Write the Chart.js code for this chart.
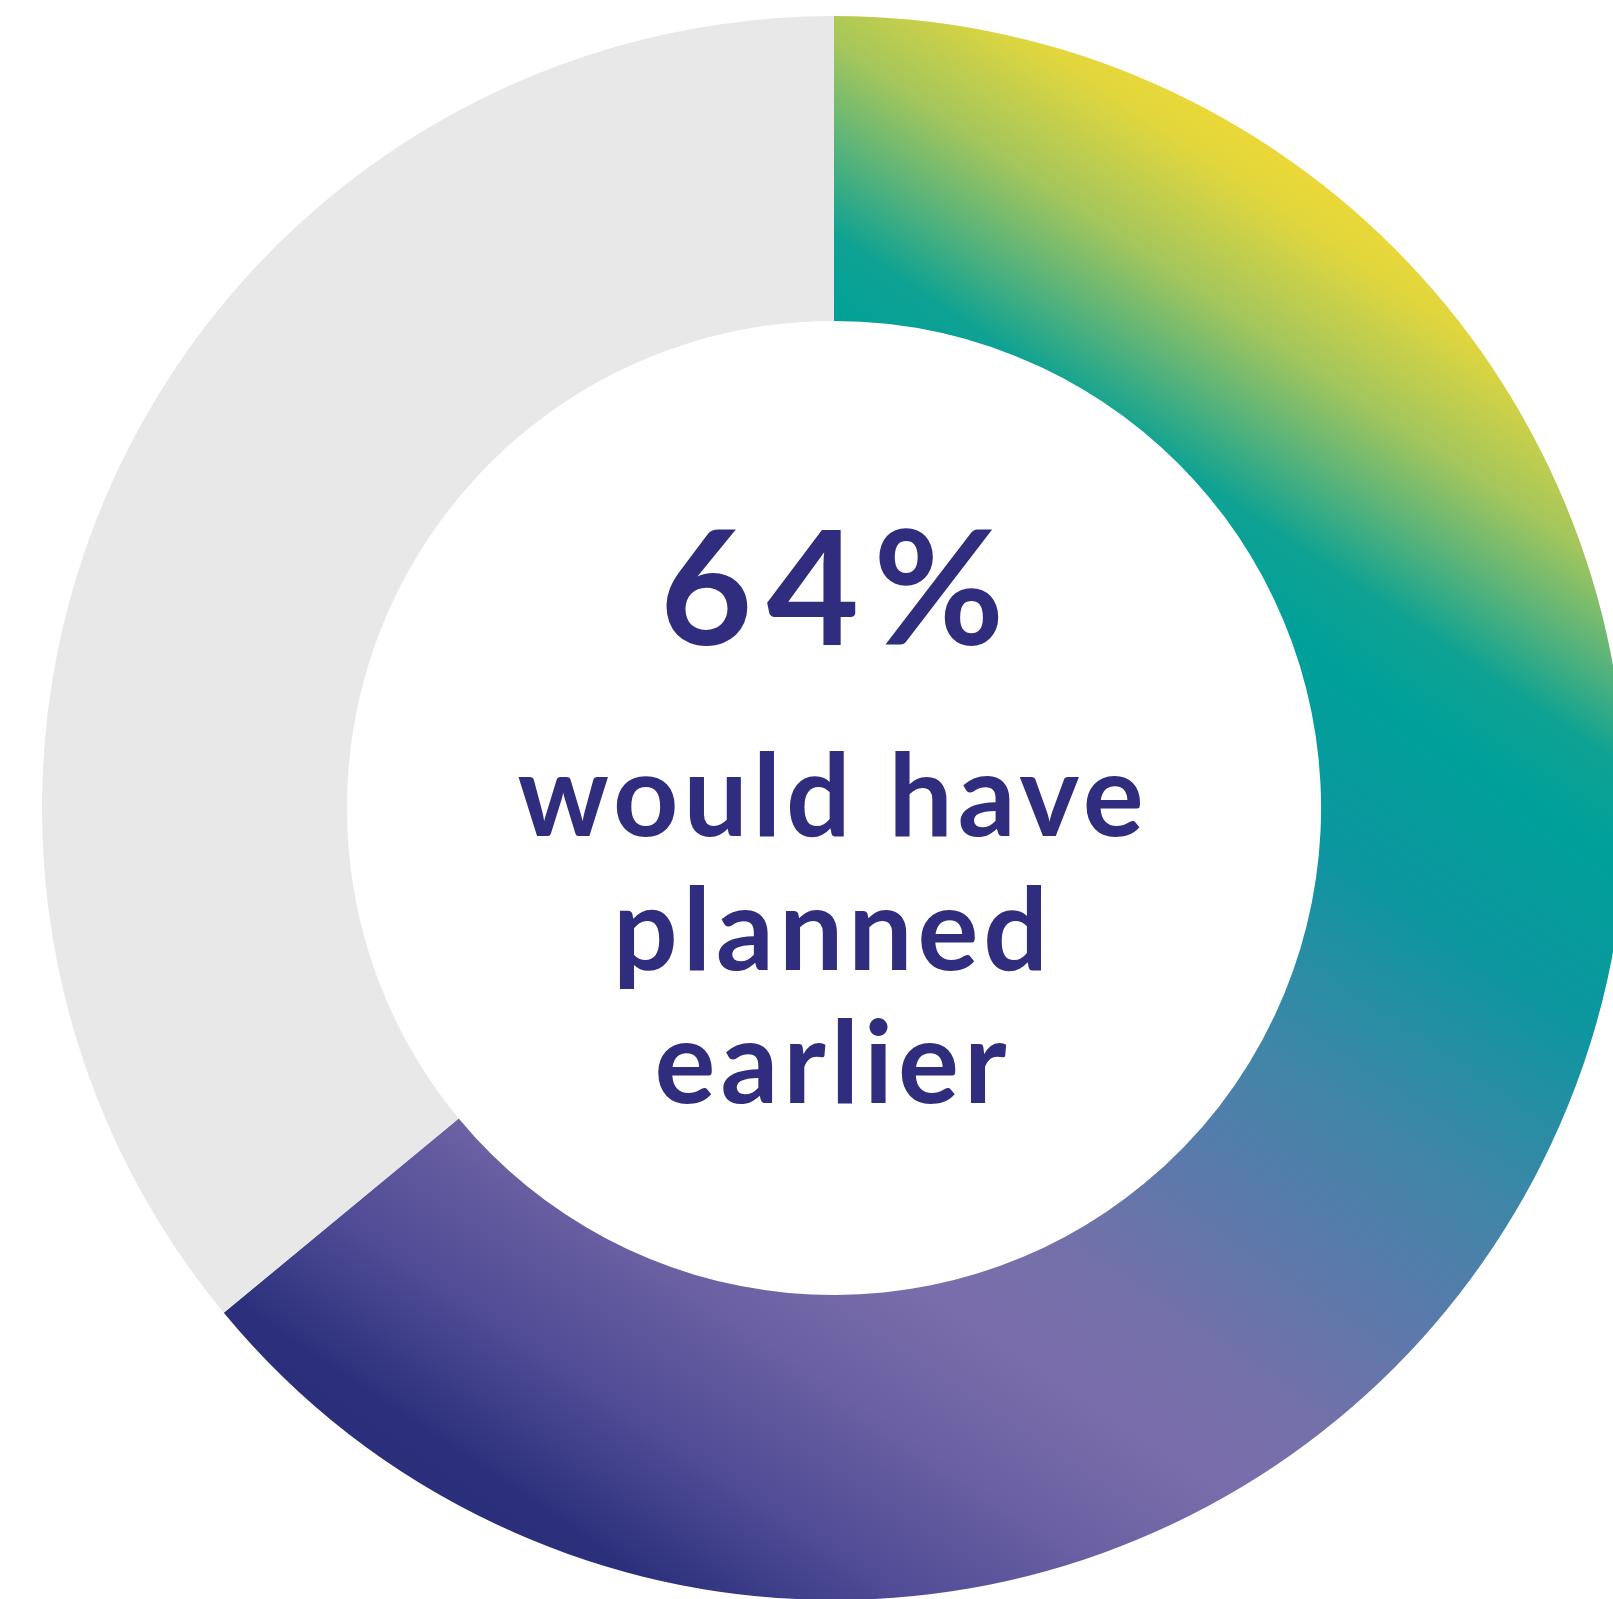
<!DOCTYPE html>
<html>
<head>
<meta charset="utf-8">
<script src="https://cdn.jsdelivr.net/npm/chart.js@4.4.0/dist/chart.umd.min.js"></script>
<style>
  html, body { margin: 0; padding: 0; background: #fff; overflow: hidden; }
  body { width: 1613px; height: 1599px; position: relative; }
  #wrap { position: absolute; left: 42px; top: 16px; width: 1584px; height: 1584px; }
</style>
</head>
<body>
<div id="wrap"><canvas id="donut"></canvas></div>
<script>
// share of respondents
var categories = ["Would have planned earlier", "Other"];
var shares = [64, 36];
var captionLines = ["would have", "planned", "earlier"];

var inkColor = "#302c7e";
var restColor = "#e8e8e8";

// colour ramp along a diagonal running lower-left -> upper-right
var rampStops = [
  [0.00, "#2a2e7b"],
  [0.03, "#2c307c"],
  [0.11, "#4f4b95"],
  [0.20, "#6a60a2"],
  [0.28, "#7a6dab"],
  [0.35, "#7470aa"],
  [0.45, "#577bab"],
  [0.53, "#3f86a8"],
  [0.65, "#0d969f"],
  [0.75, "#00a09a"],
  [0.80, "#0ea293"],
  [0.85, "#5cb479"],
  [0.90, "#a4c65c"],
  [0.97, "#e0d63e"],
  [1.00, "#ecd837"]
];

function rampFill(chart) {
  var area = chart.chartArea;
  var cx = (area.left + area.right) / 2;
  var cy = (area.top + area.bottom) / 2;
  var r = Math.min(area.right - area.left, area.bottom - area.top) / 2;
  var dx = 0.56, dy = -0.83;
  var g = chart.ctx.createLinearGradient(cx - dx * r, cy - dy * r, cx + dx * r, cy + dy * r);
  rampStops.forEach(function (s) { g.addColorStop(s[0], s[1]); });
  return g;
}

var centreText = {
  id: "centreText",
  afterDraw: function (chart) {
    var arc = chart.getDatasetMeta(0).data[0];
    var ctx = chart.ctx;
    ctx.save();
    ctx.fillStyle = inkColor;
    ctx.textAlign = "center";
    ctx.textBaseline = "alphabetic";

    ctx.font = "700 160px Lato";
    ctx.letterSpacing = "14px";
    ctx.fillText(shares[0] + "%", arc.x + 5, arc.y - 163);

    ctx.font = "700 114px Lato";
    ctx.letterSpacing = "5px";
    captionLines.forEach(function (line, i) {
      ctx.fillText(line, arc.x - 1, arc.y + 28 + i * 133.5);
    });
    ctx.restore();
  }
};

new Chart(document.getElementById("donut"), {
  type: "doughnut",
  data: {
    labels: categories,
    datasets: [{
      data: shares,
      backgroundColor: function (context) {
        if (context.dataIndex !== 0) return restColor;
        if (!context.chart.chartArea) return restColor;
        return rampFill(context.chart);
      },
      borderWidth: 0,
      hoverOffset: 0
    }]
  },
  options: {
    responsive: true,
    maintainAspectRatio: false,
    animation: false,
    events: [],
    cutout: "61.5%",
    layout: { padding: 0 },
    plugins: {
      legend: { display: false },
      tooltip: { enabled: false }
    }
  },
  plugins: [centreText]
});
</script>
</body>
</html>
